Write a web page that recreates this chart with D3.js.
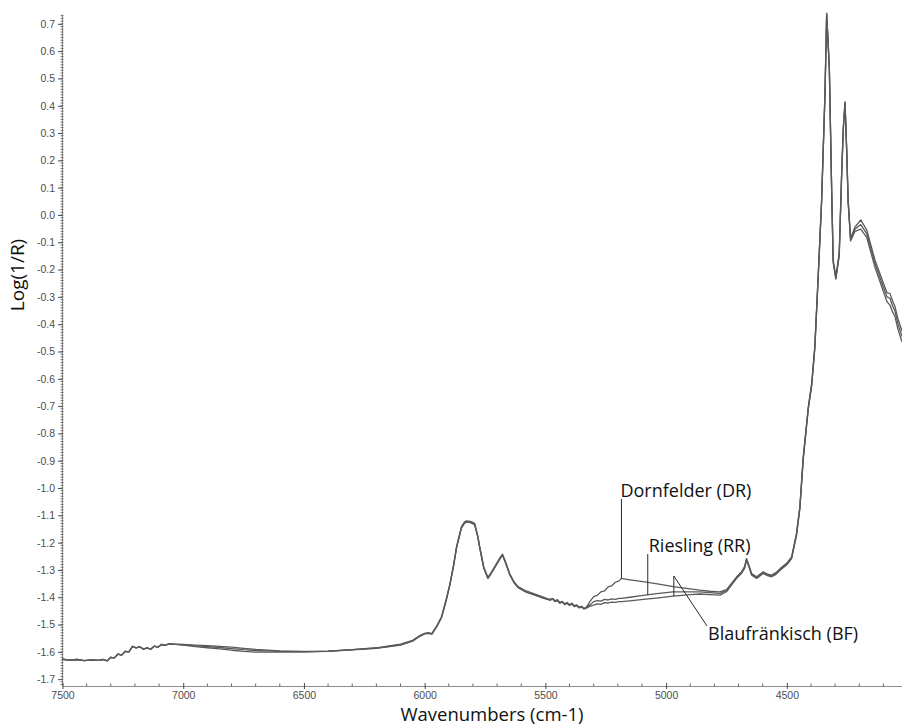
<!DOCTYPE html>
<html>
<head>
<meta charset="utf-8">
<script src="https://cdn.jsdelivr.net/npm/d3@7"></script>
<style>
  html, body { margin: 0; padding: 0; background: #fff; }
  svg { display: block; }
</style>
</head>
<body>
<svg id="chart" width="902" height="727"></svg>
<script>
// ---------- DATA ----------
const wavenumbers = [
  7500,7470,7440,7410,7380,7350,7330,7315,7300,7285,7270,7255,7240,7225,7210,7195,7180,7165,7150,7135,7120,7105,7090,7075,7060,7040,7000,
  6950,6900,6850,6800,6750,6700,6600,6500,6400,6300,6200,6100,6050,6020,
  6000,5985,5970,5950,5930,5910,5895,5880,5868,5848,5835,5827,5810,5793,5780,5772,5755,5738,5725,5710,5690,5678,5665,5648,5630,5613,5580,5551,5520,5495,
  5480,5470,5460,5450,5440,5430,5420,5410,5400,5390,5380,5370,5360,5350,5340,
  5330,5315,5300,5285,5270,5255,5240,5225,5210,5195,5185,5150,5095,5030,4971,4900,4860,4820,4777,4750,
  4730,4708,4688,4675,4667,4656,4646,4625,4610,4598,4580,4563,4545,4529,4500,4480,4460,4446,4432,4411,4397,4384,4370,4356,4342,4335,4324,4314,4308,4297,4283,4273,4266,4259,4252,4246,4236,
  4218,4194,4169,4135,4100,4085,4073,4062,4052,4040,4023
];

const dornfelder = [
  -1.627,-1.630,-1.628,-1.632,-1.629,-1.631,-1.628,-1.633,-1.620,-1.622,-1.608,-1.612,-1.598,-1.600,-1.580,-1.585,-1.581,-1.590,-1.585,-1.590,-1.579,-1.583,-1.573,-1.576,-1.571,-1.572,-1.573,
  -1.575,-1.577,-1.580,-1.583,-1.587,-1.591,-1.596,-1.598,-1.597,-1.592,-1.585,-1.572,-1.558,-1.540,
  -1.532,-1.530,-1.533,-1.505,-1.471,-1.405,-1.349,-1.280,-1.215,-1.142,-1.124,-1.120,-1.122,-1.129,-1.175,-1.215,-1.290,-1.327,-1.310,-1.288,-1.258,-1.242,-1.270,-1.313,-1.343,-1.361,-1.377,-1.386,-1.396,-1.404,
  -1.408,-1.404,-1.413,-1.409,-1.419,-1.415,-1.424,-1.419,-1.427,-1.422,-1.431,-1.428,-1.436,-1.433,-1.441,
  -1.436,-1.415,-1.398,-1.393,-1.380,-1.377,-1.362,-1.358,-1.345,-1.340,-1.331,-1.336,-1.343,-1.352,-1.361,-1.369,-1.374,-1.378,-1.380,-1.372,
  -1.350,-1.325,-1.307,-1.288,-1.258,-1.285,-1.313,-1.325,-1.315,-1.307,-1.315,-1.319,-1.310,-1.296,-1.275,-1.252,-1.166,-1.068,-0.885,-0.702,-0.617,-0.480,-0.220,0.055,0.447,0.739,0.543,0.080,-0.165,-0.226,-0.140,0.153,0.323,0.415,0.238,0.055,-0.085,
  -0.045,-0.018,-0.055,-0.165,-0.250,-0.285,-0.287,-0.315,-0.336,-0.380,-0.425
];

const riesling = [
  -1.627,-1.630,-1.628,-1.632,-1.629,-1.631,-1.628,-1.633,-1.620,-1.622,-1.608,-1.612,-1.598,-1.600,-1.580,-1.585,-1.581,-1.590,-1.585,-1.590,-1.579,-1.583,-1.573,-1.576,-1.571,-1.572,-1.574,
  -1.578,-1.581,-1.584,-1.588,-1.592,-1.595,-1.598,-1.600,-1.597,-1.592,-1.586,-1.574,-1.560,-1.542,
  -1.533,-1.531,-1.534,-1.507,-1.473,-1.408,-1.352,-1.283,-1.218,-1.146,-1.128,-1.124,-1.126,-1.133,-1.178,-1.218,-1.293,-1.330,-1.313,-1.291,-1.261,-1.245,-1.273,-1.316,-1.346,-1.364,-1.380,-1.389,-1.399,-1.406,
  -1.410,-1.406,-1.415,-1.411,-1.421,-1.417,-1.426,-1.421,-1.429,-1.424,-1.433,-1.430,-1.438,-1.435,-1.442,
  -1.436,-1.428,-1.416,-1.412,-1.414,-1.408,-1.410,-1.406,-1.408,-1.404,-1.404,-1.400,-1.393,-1.386,-1.380,-1.380,-1.380,-1.383,-1.386,-1.376,
  -1.353,-1.328,-1.310,-1.291,-1.262,-1.288,-1.316,-1.328,-1.318,-1.310,-1.318,-1.322,-1.313,-1.299,-1.278,-1.255,-1.170,-1.072,-0.890,-0.706,-0.621,-0.484,-0.224,0.050,0.442,0.736,0.540,0.076,-0.170,-0.231,-0.145,0.148,0.318,0.411,0.233,0.050,-0.090,
  -0.052,-0.035,-0.068,-0.178,-0.265,-0.300,-0.305,-0.333,-0.352,-0.398,-0.445
];

const blaufrankisch = [
  -1.627,-1.630,-1.628,-1.632,-1.629,-1.631,-1.628,-1.633,-1.620,-1.622,-1.608,-1.612,-1.598,-1.600,-1.580,-1.585,-1.581,-1.590,-1.585,-1.590,-1.579,-1.583,-1.573,-1.576,-1.571,-1.572,-1.575,
  -1.581,-1.585,-1.589,-1.594,-1.598,-1.601,-1.601,-1.600,-1.598,-1.593,-1.587,-1.575,-1.561,-1.543,
  -1.534,-1.532,-1.535,-1.508,-1.474,-1.409,-1.353,-1.284,-1.219,-1.147,-1.129,-1.125,-1.127,-1.134,-1.179,-1.219,-1.294,-1.331,-1.314,-1.292,-1.262,-1.246,-1.274,-1.317,-1.347,-1.365,-1.381,-1.390,-1.400,-1.407,
  -1.411,-1.407,-1.416,-1.412,-1.422,-1.418,-1.427,-1.422,-1.430,-1.425,-1.434,-1.431,-1.439,-1.436,-1.443,
  -1.440,-1.433,-1.429,-1.424,-1.426,-1.420,-1.421,-1.418,-1.419,-1.416,-1.416,-1.413,-1.408,-1.402,-1.396,-1.390,-1.388,-1.390,-1.392,-1.380,
  -1.356,-1.331,-1.313,-1.294,-1.265,-1.291,-1.319,-1.331,-1.321,-1.313,-1.321,-1.325,-1.316,-1.302,-1.281,-1.258,-1.174,-1.076,-0.895,-0.710,-0.625,-0.488,-0.228,0.046,0.438,0.733,0.536,0.072,-0.174,-0.235,-0.150,0.144,0.314,0.407,0.229,0.046,-0.095,
  -0.060,-0.052,-0.082,-0.192,-0.280,-0.318,-0.330,-0.355,-0.372,-0.418,-0.465
];

const seriesNames = ["Dornfelder (DR)", "Riesling (RR)", "Blaufränkisch (BF)"];
const xTickValues = [7500, 7000, 6500, 6000, 5500, 5000, 4500];
const yTickValues = [-1.7,-1.6,-1.5,-1.4,-1.3,-1.2,-1.1,-1.0,-0.9,-0.8,-0.7,-0.6,-0.5,-0.4,-0.3,-0.2,-0.1,0.0,0.1,0.2,0.3,0.4,0.5,0.6,0.7];
// annotation anchors: [series index, wavenumber where the leader touches the curve]
const annotationAnchors = [[0, 5185], [1, 5076], [2, 4968]];

// ---------- LAYOUT ----------
const svg = d3.select("#chart");
const x = d3.scaleLinear().domain([7500, 4023]).range([62.5, 902]);
const y = d3.scaleLinear().domain([-1.725, 0.736]).range([686, 14]);

const axisColor = "#8c8c8c";
const tickColor = "#4a4a4a";
const labelFont = "'Liberation Sans', Arial, sans-serif";
const titleFont = "'Open Sans', 'Noto Sans', sans-serif";

svg.append("defs").append("clipPath").attr("id", "plotclip")
  .append("rect").attr("x", 62).attr("y", 0).attr("width", 840).attr("height", 690);

// ---------- Y AXIS ----------
const yAxisG = svg.append("g").attr("transform", "translate(62,0)");
yAxisG.call(d3.axisLeft(y).tickValues(yTickValues).tickSize(4).tickSizeOuter(0).tickPadding(3)
  .tickFormat(d => (Math.abs(d) < 1e-9 ? 0 : d).toFixed(1)));
yAxisG.select(".domain").attr("stroke", axisColor).attr("stroke-width", 1);
yAxisG.selectAll(".tick line").attr("stroke", tickColor);
yAxisG.selectAll(".tick text").attr("fill", "#4d4d4d").style("font-family", labelFont).style("font-size", "10.5px");
const yMinor = d3.range(-172, 74, 1).map(d => d / 100);
yAxisG.selectAll(".minor").data(yMinor).enter().append("line")
  .attr("x1", -1.5).attr("x2", 1.5)
  .attr("y1", d => y(d)).attr("y2", d => y(d))
  .attr("stroke", "#555").attr("stroke-width", 0.8);

// ---------- X AXIS ----------
const xAxisG = svg.append("g").attr("transform", "translate(0,686)");
xAxisG.call(d3.axisBottom(x).tickValues(xTickValues).tickSize(3).tickSizeOuter(0).tickPadding(3)
  .tickFormat(d3.format("d")));
xAxisG.select(".domain").attr("stroke", axisColor).attr("stroke-width", 1.2);
xAxisG.selectAll(".tick line").attr("stroke", tickColor).attr("y1", -3);
xAxisG.selectAll(".tick text").attr("fill", "#4d4d4d").style("font-family", labelFont).style("font-size", "10.5px");
const xMinor = d3.range(7400, 4023, -100).filter(d => d % 500 !== 0);
xAxisG.selectAll(".minor").data(xMinor).enter().append("line")
  .attr("x1", d => x(d)).attr("x2", d => x(d))
  .attr("y1", -2.5).attr("y2", 0)
  .attr("stroke", "#555").attr("stroke-width", 0.9);

// ---------- AXIS TITLES ----------
svg.append("text")
  .attr("transform", "translate(24,275) rotate(-90)")
  .attr("text-anchor", "middle")
  .style("font-family", titleFont).style("font-size", "19px").attr("fill", "#111")
  .text("Log(1/R)");
svg.append("text")
  .attr("x", 492).attr("y", 721)
  .attr("text-anchor", "middle")
  .style("font-family", titleFont).style("font-size", "18.5px").attr("fill", "#111")
  .text("Wavenumbers (cm-1)");

// ---------- LINES ----------
const allSeries = [dornfelder, riesling, blaufrankisch];
const line = d3.line()
  .x(d => x(d[0]))
  .y(d => y(d[1]))
  .curve(d3.curveLinear);
const plot = svg.append("g").attr("clip-path", "url(#plotclip)");
allSeries.forEach((vals, i) => {
  const pts = wavenumbers.map((w, k) => [w, vals[k]]);
  plot.append("path")
    .datum(pts)
    .attr("d", line)
    .attr("fill", "none")
    .attr("stroke", "#5a5a5a")
    .attr("stroke-width", 1.3)
    .attr("stroke-linejoin", "round");
});

// ---------- ANNOTATIONS ----------
function valueAt(series, w) {
  for (let k = 0; k < wavenumbers.length - 1; k++) {
    const w0 = wavenumbers[k], w1 = wavenumbers[k + 1];
    if (w <= w0 && w >= w1) {
      const t = (w0 - w) / (w0 - w1);
      return series[k] + t * (series[k + 1] - series[k]);
    }
  }
  return series[series.length - 1];
}
const ann = svg.append("g");
const annStyle = g => g.attr("stroke", "#2a2a2a").attr("stroke-width", 1).attr("fill", "none");

{
  const [si, w] = annotationAnchors[0];
  const ax = x(w), ay = y(valueAt(allSeries[si], w));
  ann.append("line").attr("x1", ax).attr("x2", ax).attr("y1", 499).attr("y2", ay).call(annStyle);
  ann.append("text").attr("x", ax - 1).attr("y", 497)
    .style("font-family", titleFont).style("font-size", "18px").attr("fill", "#111")
    .text(seriesNames[0]);
}
{
  const [si, w] = annotationAnchors[1];
  const ax = x(w), ay = y(valueAt(allSeries[si], w));
  ann.append("line").attr("x1", ax).attr("x2", ax).attr("y1", 554).attr("y2", ay).call(annStyle);
  ann.append("text").attr("x", ax + 1).attr("y", 552)
    .style("font-family", titleFont).style("font-size", "18px").attr("fill", "#111")
    .text(seriesNames[1]);
}
{
  const [si, w] = annotationAnchors[2];
  const ax = x(w), ay = y(valueAt(allSeries[si], w));
  const topY = 576;
  ann.append("line").attr("x1", ax).attr("x2", ax).attr("y1", topY).attr("y2", ay).call(annStyle);
  ann.append("line").attr("x1", ax).attr("x2", 707).attr("y1", topY).attr("y2", 626).call(annStyle);
  ann.append("text").attr("x", 708).attr("y", 640)
    .style("font-family", titleFont).style("font-size", "18px").attr("fill", "#111")
    .text(seriesNames[2]);
}
</script>
</body>
</html>
